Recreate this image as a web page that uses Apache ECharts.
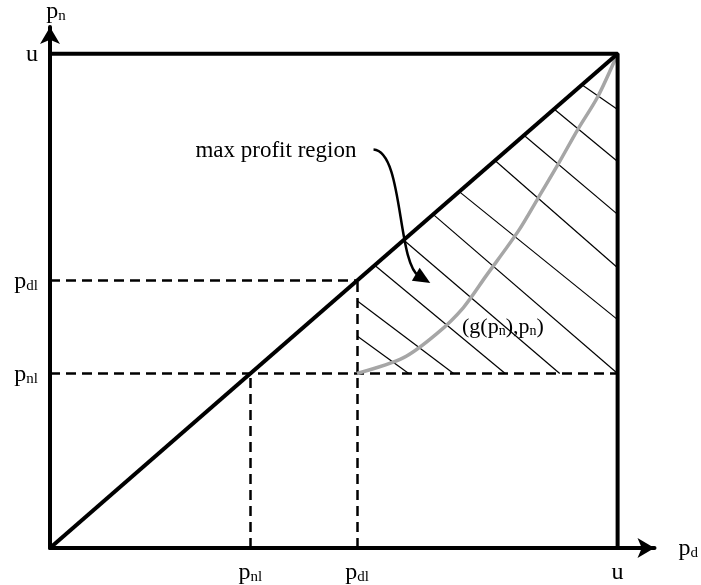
<!DOCTYPE html>
<html>
<head>
<meta charset="utf-8">
<script src="https://cdn.jsdelivr.net/npm/echarts@6/dist/echarts.min.js"></script>
<style>
  html, body { margin: 0; padding: 0; background: #fff; }
  #main { width: 701px; height: 585px; }
</style>
</head>
<body>
<div id="main"></div>
<script>
// thresholds (u = 1)
const pnl = 0.353;
const pdl = 0.541;
const u = 1;

// axis tick values and their labels [base, subscript]
const tickValues = [pnl, pdl, u];
const tickNames = [['p', 'nl'], ['p', 'dl'], ['u', '']];

// gray curve (g(pn), pn)
const curveX = [pdl, 0.623, 0.681, 0.728, 0.768, 0.825, 0.860, 0.895, 0.930, 0.965, 1.0];
const curveY = [pnl, 0.385, 0.433, 0.486, 0.550, 0.641, 0.708, 0.776, 0.847, 0.913, 1.0];

// hatch strokes: start -> end
const hatchX1 = [0.937, 0.888, 0.835, 0.784, 0.721, 0.675, 0.623, 0.572, pdl, pdl];
const hatchY1 = [0.937, 0.888, 0.835, 0.784, 0.721, 0.675, 0.623, 0.572, 0.500, 0.429];
const hatchX2 = [1, 1, 1, 1, 1, 1, 0.898, 0.802, 0.711, 0.632];
const hatchY2 = [0.887, 0.782, 0.675, 0.567, 0.462, pnl, pnl, pnl, pnl, pnl];

// curved annotation arrow (cubic bezier control points)
const arrowX = [0.570, 0.623, 0.611, 0.670];
const arrowY = [0.806, 0.802, 0.577, 0.536];

const serif = 'Liberation Serif';
const rich = {
  p: { fontFamily: serif, fontSize: 24, color: '#000', lineHeight: 26, verticalAlign: 'bottom' },
  s: { fontFamily: serif, fontSize: 15, color: '#000', lineHeight: 15, verticalAlign: 'bottom' },
  t: { fontFamily: serif, fontSize: 23, color: '#000', lineHeight: 26, verticalAlign: 'bottom' },
  p2: { fontFamily: serif, fontSize: 22, color: '#000', lineHeight: 26, verticalAlign: 'bottom' },
  s2: { fontFamily: serif, fontSize: 14, color: '#000', lineHeight: 15, verticalAlign: 'bottom' },
  t2: { fontFamily: serif, fontSize: 22, color: '#000', lineHeight: 26, verticalAlign: 'bottom' }
};

const tickLabel = (v) => {
  for (let i = 0; i < tickValues.length; i++) {
    if (Math.abs(v - tickValues[i]) < 1e-6) {
      const n = tickNames[i];
      return '{p|' + n[0] + '}' + (n[1] ? '{s|' + n[1] + '}' : '');
    }
  }
  return '';
};

const hatchData = hatchX1.map((x, i) => ({ coords: [[x, hatchY1[i]], [hatchX2[i], hatchY2[i]]] }));

const dashData = [
  { coords: [[0, pdl], [pdl, pdl]] },
  { coords: [[0, pnl], [u, pnl]] },
  { coords: [[pnl, 0], [pnl, pnl]] },
  { coords: [[pdl, 0], [pdl, pdl]] }
];

const axisCommon = {
  type: 'value',
  min: 0,
  splitLine: { show: false },
  axisTick: { show: false },
  axisLine: {
    lineStyle: { color: '#000', width: 4 },
    symbol: ['none', 'arrow'],
    symbolSize: [15, 17]
  }
};

const chart = echarts.init(document.getElementById('main'));

const option = {
  animation: false,
  backgroundColor: '#fff',
  grid: { left: 50, right: 44, top: 25, bottom: 37 },
  xAxis: Object.assign({}, axisCommon, {
    max: 1.065,
    name: '{p|p}{s|d}',
    nameLocation: 'end',
    nameGap: 24,
    nameTextStyle: { rich: rich, verticalAlign: 'middle' },
    axisLabel: { customValues: tickValues, formatter: tickLabel, margin: 11, rich: rich }
  }),
  yAxis: Object.assign({}, axisCommon, {
    max: 1.054,
    name: '{p|p}{s|n}',
    nameLocation: 'end',
    nameGap: 3,
    nameTextStyle: { rich: rich, padding: [0, 0, 0, 12] },
    axisLabel: { customValues: tickValues, formatter: tickLabel, margin: 12, rich: rich }
  }),
  series: [
    {
      // hatch
      type: 'lines',
      coordinateSystem: 'cartesian2d',
      silent: true,
      lineStyle: { color: '#000', width: 1.2, opacity: 1 },
      data: hatchData,
      z: 2
    },
    {
      // dashed guides
      type: 'lines',
      coordinateSystem: 'cartesian2d',
      silent: true,
      lineStyle: { color: '#000', width: 2.5, type: [10, 6], opacity: 1 },
      data: dashData,
      z: 3
    },
    {
      // g curve
      type: 'line',
      smooth: 0.3,
      symbol: 'none',
      lineStyle: { color: '#a6a6a6', width: 3.5 },
      data: curveX.map((x, i) => [x, curveY[i]]),
      z: 4
    },
    {
      // diagonal
      type: 'line',
      symbol: 'none',
      lineStyle: { color: '#000', width: 4 },
      data: [[0, 0], [u, u]],
      z: 5
    },
    {
      // box top and right
      type: 'line',
      symbol: 'none',
      lineStyle: { color: '#000', width: 4 },
      data: [[0, u], [u, u], [u, 0]],
      z: 5
    },
    {
      // curved arrow
      type: 'custom',
      coordinateSystem: 'cartesian2d',
      silent: true,
      data: [[arrowX[0], arrowY[0], arrowX[1], arrowY[1], arrowX[2], arrowY[2], arrowX[3], arrowY[3]]],
      encode: { x: [0, 2, 4, 6], y: [1, 3, 5, 7] },
      renderItem: function (params, api) {
        const p0 = api.coord([api.value(0), api.value(1)]);
        const p1 = api.coord([api.value(2), api.value(3)]);
        const p2 = api.coord([api.value(4), api.value(5)]);
        const p3 = api.coord([api.value(6), api.value(7)]);
        let dx = p3[0] - p2[0], dy = p3[1] - p2[1];
        const len = Math.sqrt(dx * dx + dy * dy);
        dx /= len; dy /= len;
        const L = 17, W = 7.5;
        const base = [p3[0] - dx * L, p3[1] - dy * L];
        return {
          type: 'group',
          children: [
            {
              type: 'bezierCurve',
              shape: {
                x1: p0[0], y1: p0[1],
                cpx1: p1[0], cpy1: p1[1],
                cpx2: p2[0], cpy2: p2[1],
                x2: base[0] + dx * 4, y2: base[1] + dy * 4
              },
              style: { stroke: '#000', lineWidth: 2.5, fill: null }
            },
            {
              type: 'polygon',
              shape: {
                points: [
                  p3,
                  [base[0] - dy * W, base[1] + dx * W],
                  [base[0] + dy * W, base[1] - dx * W]
                ]
              },
              style: { fill: '#000' }
            }
          ]
        };
      },
      z: 6
    },
    {
      // text annotations
      type: 'scatter',
      symbolSize: 0,
      silent: true,
      data: [
        { value: [0.398, 0.806], label: { formatter: '{t|max profit region}' } },
        { value: [0.798, 0.450], label: { formatter: '{t2|(g(}{p2|p}{s2|n}{t2|),}{p2|p}{s2|n}{t2|)}' } }
      ],
      label: {
        show: true,
        position: 'inside',
        color: '#000',
        opacity: 1,
        textBorderWidth: 0,
        rich: rich
      },
      itemStyle: { opacity: 1 },
      z: 7
    }
  ]
};

chart.setOption(option);
</script>
</body>
</html>
